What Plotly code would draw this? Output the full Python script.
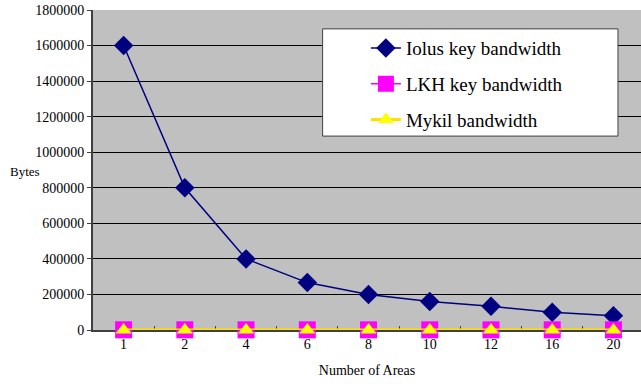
import plotly.graph_objects as go

# Number of areas (categorical x axis)
areas = ["1", "2", "4", "6", "8", "10", "12", "16", "20"]

# Key distribution bandwidth in bytes
iolus_bw = [1600000, 800000, 400000, 266667, 200000, 160000, 133333, 100000, 80000]
lkh_bw = [1200, 1100, 1000, 950, 900, 880, 860, 840, 820]
mykil_bw = [300, 300, 300, 300, 300, 300, 300, 300, 300]

y_ticks = list(range(0, 1800001, 200000))

serif = "Liberation Serif"

fig = go.Figure()
fig.add_trace(go.Scatter(
    x=areas, y=iolus_bw, name="Iolus key bandwidth", mode="lines+markers",
    line=dict(color="#000080", width=1.5),
    marker=dict(symbol="diamond", size=15, color="#000080"),
    legendgroup="a", cliponaxis=False,
))
fig.add_trace(go.Scatter(
    x=areas, y=lkh_bw, name="LKH key bandwidth", mode="lines+markers",
    line=dict(color="#FF00FF", width=1.5),
    marker=dict(symbol="square", size=17, color="#FF00FF"),
    legendgroup="b", cliponaxis=False,
))
fig.add_trace(go.Scatter(
    x=areas, y=mykil_bw, name="Mykil bandwidth", mode="lines+markers",
    line=dict(color="#FFE000", width=3),
    marker=dict(symbol="triangle-up", size=14, color="#FFFF00"),
    legendgroup="c", cliponaxis=False,
))

fig.update_layout(
    width=641, height=387,
    margin=dict(l=93, r=0, t=10, b=57),
    paper_bgcolor="white",
    plot_bgcolor="#C0C0C0",
    font=dict(family=serif, size=14, color="black"),
    showlegend=True,
    legend=dict(
        x=0.498, y=0.94, xanchor="left", yanchor="top",
        bgcolor="rgba(0,0,0,0)", borderwidth=0,
        font=dict(family=serif, size=19),
        tracegroupgap=8,
    ),
    shapes=[dict(
        type="rect", xref="paper", yref="paper",
        x0=0.419, x1=0.958, y0=0.606, y1=0.941,
        fillcolor="white", line=dict(color="#404040", width=1),
        layer="above",
    )],
    xaxis=dict(
        type="category", range=[-0.5, 8.45],
        showgrid=False, zeroline=False,
        showline=True, linecolor="#404040", linewidth=2,
        ticks="inside", tickson="boundaries", ticklen=4, tickcolor="#404040",
        layer="below traces",
        title=dict(text="Number of Areas", standoff=14, font=dict(size=14)),
    ),
    yaxis=dict(
        range=[0, 1800000], tickvals=y_ticks,
        tickformat="d",
        showgrid=True, gridcolor="black", gridwidth=1,
        zeroline=False,
        showline=True, linecolor="#404040", linewidth=2,
        ticks="outside", ticklen=4, tickcolor="#404040",
    ),
    annotations=[dict(
        text="Bytes", xref="paper", yref="paper", x=-0.125, y=0.495,
        xanchor="center", yanchor="middle", showarrow=False,
        font=dict(family=serif, size=13),
    )],
)

fig.write_html("out.html")
